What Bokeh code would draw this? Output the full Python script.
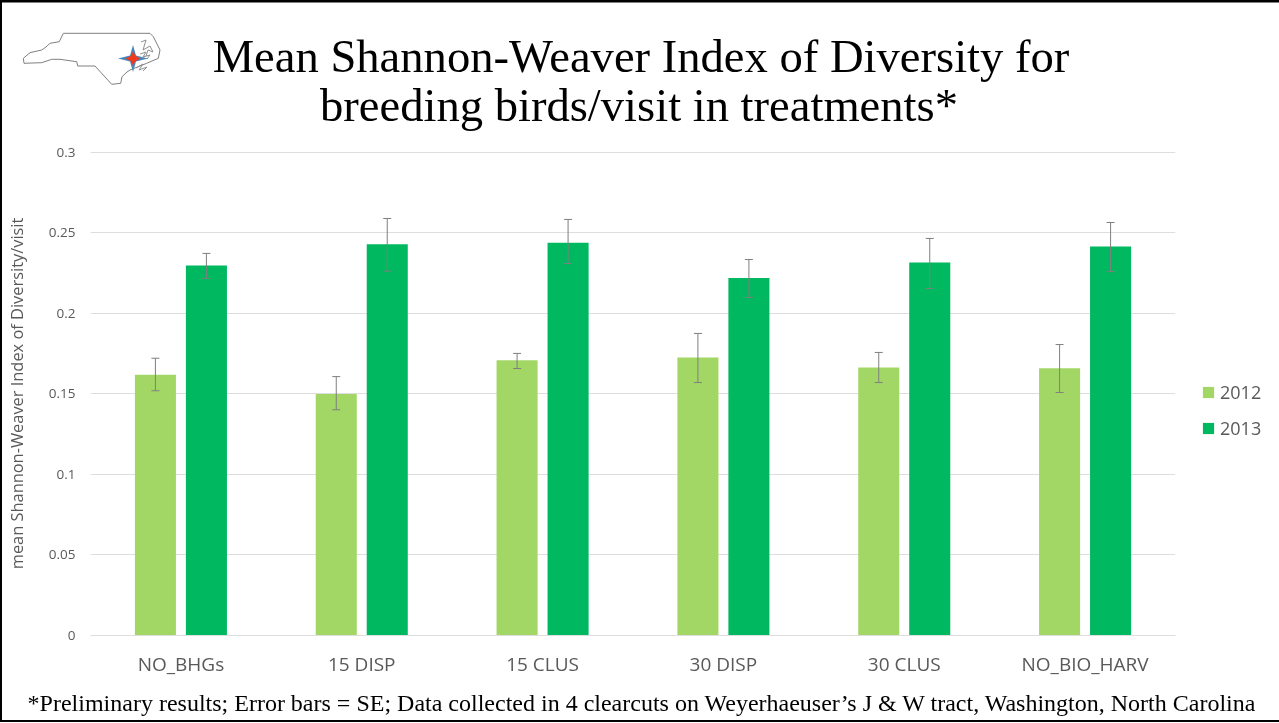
from bokeh.embed import file_html
from bokeh.resources import INLINE
from bokeh.plotting import figure
from bokeh.models import (ColumnDataSource, FactorRange, Range1d, Whisker, Legend, LegendItem,
                          Div, FixedTicker, TeeHead)
from bokeh.transform import dodge

categories = ["NO_BHGs", "15 DISP", "15 CLUS", "30 DISP", "30 CLUS", "NO_BIO_HARV"]
values_2012 = [0.162, 0.150, 0.171, 0.1727, 0.1665, 0.166]
values_2013 = [0.2298, 0.243, 0.244, 0.222, 0.2317, 0.2416]
upper_2012 = [0.1722, 0.1608, 0.1752, 0.1876, 0.1758, 0.1807]
lower_2012 = [0.1520, 0.1402, 0.1658, 0.1571, 0.1571, 0.1509]
upper_2013 = [0.2373, 0.2590, 0.2584, 0.2335, 0.2466, 0.2565]
lower_2013 = [0.2218, 0.2263, 0.2310, 0.2099, 0.2155, 0.2260]
y_ticks = [0, 0.05, 0.1, 0.15, 0.2, 0.25, 0.3]
y_tick_labels = ["0", "0.05", "0.1", "0.15", "0.2", "0.25", "0.3"]
title_lines = ["Mean Shannon-Weaver Index of Diversity for", "breeding birds/visit in treatments*"]
footnote = "*Preliminary results; Error bars = SE; Data collected in 4 clearcuts on Weyerhaeuser\u2019s J &amp; W tract, Washington, North Carolina"
y_title = "mean Shannon-Weaver Index of Diversity/visit"

GRID = "#dedede"
TXT = "#595959"
C12 = "#a3d765"
C13 = "#00b85f"

src = ColumnDataSource(dict(cat=categories, v12=values_2012, v13=values_2013,
                            u12=upper_2012, l12=lower_2012, u13=upper_2013, l13=lower_2013))

p = figure(width=1279, height=723, frame_width=1085, frame_height=484,
           x_range=FactorRange(*categories, range_padding=0),
           y_range=Range1d(0, 0.3006), output_backend="svg", toolbar_location=None,
           min_border_left=90, min_border_right=0, min_border_top=151, min_border_bottom=88,
           outline_line_color=None, background_fill_color="white", border_fill_color="white")
p.styles = {"position": "fixed", "left": "0px", "top": "0px"}

p.xgrid.visible = False
p.ygrid.grid_line_color = GRID
p.ygrid.grid_line_width = 1
p.ygrid.ticker = FixedTicker(ticks=y_ticks)

p.yaxis.ticker = FixedTicker(ticks=y_ticks)
p.yaxis.major_label_overrides = {t: s for t, s in zip(y_ticks, y_tick_labels)}
p.yaxis.axis_line_color = None
p.yaxis.major_tick_line_color = None
p.yaxis.minor_tick_line_color = None
p.yaxis.major_label_text_font = "Open Sans"
p.yaxis.major_label_text_font_size = "13.5px"
p.yaxis.major_label_text_color = TXT
p.yaxis.major_label_standoff = 9
p.yaxis.axis_label = y_title
p.yaxis.axis_label_text_font = "Open Sans"
p.yaxis.axis_label_text_font_size = "16.4px"
p.yaxis.axis_label_text_font_style = "normal"
p.yaxis.axis_label_text_color = TXT
p.yaxis.axis_label_standoff = 18

p.xaxis.axis_line_color = GRID
p.xaxis.major_tick_line_color = None
p.xaxis.minor_tick_line_color = None
p.xaxis.major_label_text_font = "Open Sans"
p.xaxis.major_label_text_font_size = "19px"
p.xaxis.major_label_text_color = TXT
p.xaxis.major_label_standoff = 9

OFF, W = 0.141, 0.227
x12 = dodge("cat", -OFF, range=p.x_range)
x13 = dodge("cat", OFF, range=p.x_range)
b12 = p.vbar(x=x12, top="v12", width=W, source=src, fill_color=C12, line_color=None)
b13 = p.vbar(x=x13, top="v13", width=W, source=src, fill_color=C13, line_color=None)

for x, u, l in ((x12, "u12", "l12"), (x13, "u13", "l13")):
    p.add_layout(Whisker(base=x, upper=u, lower=l, source=src, line_color="#7f7f7f", line_width=1,
                         level="overlay",
                         upper_head=TeeHead(size=8, line_color="#7f7f7f", line_width=1),
                         lower_head=TeeHead(size=8, line_color="#7f7f7f", line_width=1)))

legend = Legend(items=[LegendItem(label="2012", renderers=[b12]), LegendItem(label="2013", renderers=[b13])],
                location=(26, 195), orientation="vertical", background_fill_alpha=0, border_line_color=None,
                label_text_font="Open Sans", label_text_font_size="18px", label_text_color=TXT,
                glyph_width=14, glyph_height=14, spacing=12, padding=8, margin=0, label_standoff=5, label_height=24)
p.add_layout(legend, "right")

# Slide furniture that lies outside the plot frame: page-wide inline SVG with real text
nc_x = [23.3, 24, 32, 41.7, 51.7, 60, 76.7, 77.7, 95, 111.7, 120.7, 122, 127, 130, 146.7, 158.3, 160, 153.3, 150, 63.3, 59.3, 50, 46, 41.7, 30, 23.3]
nc_y = [58.3, 63.3, 63, 62.7, 59.3, 59.3, 61.7, 66, 66, 84.3, 83.3, 76.7, 72, 70, 63.3, 58.3, 50, 36.7, 33.3, 33.3, 41.7, 43.3, 47, 50, 52.7, 58.3]
sounds = [
    ([141, 146, 143, 150, 153, 148, 146], [42, 40, 50, 46, 52, 50, 56]),
    ([140, 146, 143, 150, 147], [54, 52, 57, 55, 59]),
    ([136, 143, 139, 147, 143], [68, 64, 70, 67, 71]),
]

def pts(xs, ys):
    return " ".join(f"{a},{b}" for a, b in zip(xs, ys))

def star(cx, cy, a, b, n):
    return pts([cx, cx + n, cx + a, cx + n, cx, cx - n, cx - a, cx - n],
               [cy - b, cy - n, cy, cy + n, cy + b, cy + n, cy, cy - n])

def t(x, y, s, font, size, color):
    return (f'<text x="{x}" y="{y}" text-anchor="middle" dominant-baseline="central" '
            f"style=\"font-family:'{font}';font-size:{size}px;fill:{color}\">{s}</text>")

svg = "".join([
    '<svg xmlns="http://www.w3.org/2000/svg" width="1279" height="723" style="display:block">',
    '<rect x="0" y="0" width="1279" height="2.5" fill="black"/>',
    '<rect x="0" y="0" width="2" height="722" fill="black"/>',
    '<rect x="0" y="720" width="1279" height="2" fill="black"/>',
    f'<polyline points="{pts(nc_x, nc_y)}" fill="none" stroke="#808080" stroke-width="1"/>',
    *[f'<polyline points="{pts(a, b)}" fill="none" stroke="#909090" stroke-width="1"/>' for a, b in sounds],
    f'<polygon points="{star(133, 58.5, 15, 13.5, 3)}" fill="#4a86b8"/>',
    f'<polygon points="{star(133, 58.5, 7.5, 7, 2.5)}" fill="#f03a20"/>',
    t(641, 56, title_lines[0], "Liberation Serif", 46.6, "black"),
    t(639, 105, title_lines[1], "Liberation Serif", 46.6, "black"),
    t(641.5, 703, footnote, "Liberation Serif", 24, "black"),
    '</svg>',
])
overlay = Div(text=svg, width=1279, height=723, margin=0,
              styles={"position": "absolute", "left": "0px", "top": "0px", "z-index": "10", "pointer-events": "none"})
p.elements.append(overlay)

open("out.html", "w").write(file_html(p, INLINE))
